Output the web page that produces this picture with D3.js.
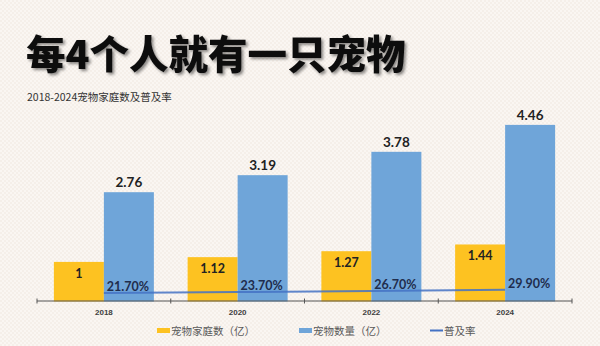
<!DOCTYPE html>
<html><head><meta charset="utf-8">
<script src="https://cdn.jsdelivr.net/npm/d3@7"></script>
<style>
html,body{margin:0;padding:0;background:#faf6f2;}
svg{display:block;}
</style></head>
<body>
<svg id="c" width="600" height="346"></svg>
<script>
const years = ["2018","2020","2022","2024"];
const households = [1, 1.12, 1.27, 1.44];
const pets = [2.76, 3.19, 3.78, 4.46];
const rate = [0.217, 0.237, 0.267, 0.299];
const rateLabels = ["21.70%","23.70%","26.70%","29.90%"];
const legendLabels = ["宠物家庭数（亿）","宠物数量（亿）","普及率"];
const title = "每4个人就有一只宠物";
const subtitle = "2018-2024宠物家庭数及普及率";

const svg = d3.select("#c");
const defs = svg.append("defs");
const pat = defs.append("pattern").attr("id","bgp").attr("width",4).attr("height",4).attr("patternUnits","userSpaceOnUse");
pat.append("rect").attr("width",4).attr("height",4).attr("fill","#faf6f2");
pat.append("rect").attr("width",2).attr("height",2).attr("fill","#f5efe9");
pat.append("rect").attr("x",2).attr("y",2).attr("width",2).attr("height",2).attr("fill","#f5efe9");
svg.append("rect").attr("width",600).attr("height",346).attr("fill","url(#bgp)");

const sh = defs.append("filter").attr("id","sh").attr("x","-10%").attr("y","-30%").attr("width","130%").attr("height","160%");
sh.append("feDropShadow").attr("dx",2).attr("dy",2).attr("stdDeviation",1.5).attr("flood-color","#000").attr("flood-opacity",0.45);

svg.append("text").attr("x",26).attr("y",69).text(title)
  .attr("font-family","'Noto Sans CJK SC'").attr("font-weight",900).attr("font-size",39.5)
  .attr("fill","#111").attr("filter","url(#sh)");
svg.append("text").attr("x",27).attr("y",101).text(subtitle)
  .attr("font-family","'Noto Sans CJK SC'").attr("font-size",10.5).attr("fill","#333");

const x = d3.scaleBand().domain(years).range([37,572]);
const y = d3.scaleLinear().domain([0,5]).range([301.5,103.5]);
const bw = 50;
const cx = d => x(d) + x.bandwidth()/2;

// axis
const axis = d3.axisBottom(x).tickSize(0).tickPadding(8);
const ag = svg.append("g").attr("transform","translate(0,301)").call(axis);
ag.select(".domain").remove();
ag.selectAll("text").attr("font-family","'Liberation Sans',Arial").attr("font-weight","bold").attr("font-size",8).attr("fill","#404040");

// bars
const g = svg.append("g");
g.selectAll(".hb").data(years).join("rect")
  .attr("x",d=>cx(d)-bw).attr("width",bw)
  .attr("y",(d,i)=>y(households[i])).attr("height",(d,i)=>y(0)-y(households[i]))
  .attr("fill","#fdc221");
g.selectAll(".pb").data(years).join("rect")
  .attr("x",d=>cx(d)).attr("width",bw)
  .attr("y",(d,i)=>y(pets[i])).attr("height",(d,i)=>y(0)-y(pets[i]))
  .attr("fill","#6fa5d9");

// axis line + ticks
svg.append("line").attr("x1",37).attr("x2",572).attr("y1",301).attr("y2",301).attr("stroke","#555").attr("stroke-width",1);
const edges = years.map(d=>x(d)).concat([x.range()[1]]);
svg.selectAll(".tk").data(edges).join("line")
  .attr("x1",d=>d).attr("x2",d=>d).attr("y1",298.5).attr("y2",303.5).attr("stroke","#555").attr("stroke-width",1);

// line
const line = d3.line().x((d,i)=>cx(years[i])).y(d=>y(d));
svg.append("path").datum(rate).attr("d",line).attr("fill","none")
  .attr("stroke","#4472c4").attr("stroke-width",2).attr("stroke-opacity",0.85);

const lf = "Lato,'Open Sans',sans-serif";
// labels
svg.selectAll(".hl").data(households).join("text")
  .attr("x",(d,i)=>cx(years[i])-bw/2).attr("y",d=>y(d)+16)
  .attr("text-anchor","middle").text(d=>d)
  .attr("font-family",lf).attr("font-weight","bold").attr("font-size",12.5).attr("fill","#222");
svg.selectAll(".pl").data(pets).join("text")
  .attr("x",(d,i)=>cx(years[i])+bw/2).attr("y",d=>y(d)-5)
  .attr("text-anchor","middle").text(d=>d)
  .attr("font-family",lf).attr("font-weight","bold").attr("font-size",13.5).attr("fill","#222");
svg.selectAll(".rl").data(rate).join("text")
  .attr("x",(d,i)=>cx(years[i])+24).attr("y",d=>y(d)-2)
  .attr("text-anchor","middle").text((d,i)=>rateLabels[i])
  .attr("font-family",lf).attr("font-weight","bold").attr("font-size",12.5).attr("fill","#1f2d4d");

// legend
const leg = svg.append("g").attr("font-family","'Noto Sans CJK SC'").attr("font-size",10.5).attr("fill","#595959");
const lx = [157, 299, 430];
leg.append("rect").attr("x",lx[0]).attr("y",328).attr("width",13).attr("height",5).attr("fill","#fdc221");
leg.append("rect").attr("x",lx[1]).attr("y",328).attr("width",13).attr("height",5).attr("fill","#6fa5d9");
leg.append("line").attr("x1",lx[2]).attr("x2",lx[2]+13).attr("y1",330.5).attr("y2",330.5).attr("stroke","#4472c4").attr("stroke-width",2);
legendLabels.forEach((t,i)=>{
  leg.append("text").attr("x",lx[i]+14).attr("y",334.5).text(t);
});
</script>
</body></html>
